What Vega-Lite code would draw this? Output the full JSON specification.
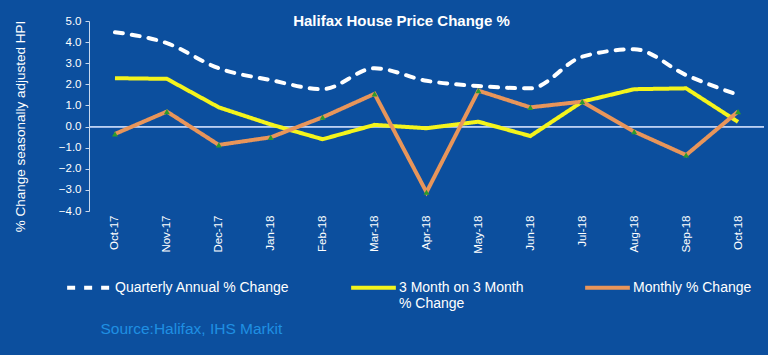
{
  "$schema": "https://vega.github.io/schema/vega-lite/v6.json",
  "width": 675,
  "height": 190,
  "autosize": {"type": "none"},
  "padding": {"left": 89, "top": 21, "right": 4, "bottom": 144},
  "background": "#0c4f9e",
  "title": {
    "text": "Halifax House Price Change %",
    "color": "white",
    "font": "Liberation Sans",
    "fontSize": 15,
    "fontWeight": "bold",
    "anchor": "middle",
    "baseline": "alphabetic",
    "offset": -5,
    "dx": -25,
    "dy": 21
  },
  "config": {
    "view": {"stroke": null},
    "font": "Liberation Sans"
  },
  "data": {
    "values": [
      {"month": "Oct-17", "series": "Quarterly Annual % Change", "value": 4.47},
      {"month": "Nov-17", "series": "Quarterly Annual % Change", "value": 3.95},
      {"month": "Dec-17", "series": "Quarterly Annual % Change", "value": 2.76},
      {"month": "Jan-18", "series": "Quarterly Annual % Change", "value": 2.2},
      {"month": "Feb-18", "series": "Quarterly Annual % Change", "value": 1.77},
      {"month": "Mar-18", "series": "Quarterly Annual % Change", "value": 2.76},
      {"month": "Apr-18", "series": "Quarterly Annual % Change", "value": 2.17},
      {"month": "May-18", "series": "Quarterly Annual % Change", "value": 1.92},
      {"month": "Jun-18", "series": "Quarterly Annual % Change", "value": 1.81},
      {"month": "Jul-18", "series": "Quarterly Annual % Change", "value": 3.31},
      {"month": "Aug-18", "series": "Quarterly Annual % Change", "value": 3.66},
      {"month": "Sep-18", "series": "Quarterly Annual % Change", "value": 2.44},
      {"month": "Oct-18", "series": "Quarterly Annual % Change", "value": 1.5},
      {"month": "Oct-17", "series": "3 Month on 3 Month % Change", "value": 2.29},
      {"month": "Nov-17", "series": "3 Month on 3 Month % Change", "value": 2.26},
      {"month": "Dec-17", "series": "3 Month on 3 Month % Change", "value": 0.91},
      {"month": "Jan-18", "series": "3 Month on 3 Month % Change", "value": 0.1},
      {"month": "Feb-18", "series": "3 Month on 3 Month % Change", "value": -0.6},
      {"month": "Mar-18", "series": "3 Month on 3 Month % Change", "value": 0.08},
      {"month": "Apr-18", "series": "3 Month on 3 Month % Change", "value": -0.08},
      {"month": "May-18", "series": "3 Month on 3 Month % Change", "value": 0.23},
      {"month": "Jun-18", "series": "3 Month on 3 Month % Change", "value": -0.45},
      {"month": "Jul-18", "series": "3 Month on 3 Month % Change", "value": 1.18},
      {"month": "Aug-18", "series": "3 Month on 3 Month % Change", "value": 1.77},
      {"month": "Sep-18", "series": "3 Month on 3 Month % Change", "value": 1.81},
      {"month": "Oct-18", "series": "3 Month on 3 Month % Change", "value": 0.22},
      {"month": "Oct-17", "series": "Monthly % Change", "value": -0.35},
      {"month": "Nov-17", "series": "Monthly % Change", "value": 0.71},
      {"month": "Dec-17", "series": "Monthly % Change", "value": -0.87},
      {"month": "Jan-18", "series": "Monthly % Change", "value": -0.51},
      {"month": "Feb-18", "series": "Monthly % Change", "value": 0.44},
      {"month": "Mar-18", "series": "Monthly % Change", "value": 1.55},
      {"month": "Apr-18", "series": "Monthly % Change", "value": -3.11},
      {"month": "May-18", "series": "Monthly % Change", "value": 1.7},
      {"month": "Jun-18", "series": "Monthly % Change", "value": 0.91},
      {"month": "Jul-18", "series": "Monthly % Change", "value": 1.18},
      {"month": "Aug-18", "series": "Monthly % Change", "value": -0.24},
      {"month": "Sep-18", "series": "Monthly % Change", "value": -1.35},
      {"month": "Oct-18", "series": "Monthly % Change", "value": 0.71}
    ]
  },
  "encoding": {
    "x": {
      "field": "month",
      "type": "ordinal",
      "sort": null,
      "scale": {"paddingInner": 0, "paddingOuter": 0.5},
      "axis": {
        "title": "Source:Halifax, IHS Markit",
        "titleColor": "#1f8fe3",
        "titleFont": "Liberation Sans",
        "titleFontSize": 15.5,
        "titleFontWeight": "normal",
        "titleAnchor": "start",
        "titleAlign": "left",
        "titleBaseline": "middle",
        "titleX": 11,
        "titleY": 117,
        "labelAngle": -90,
        "labelAlign": "right",
        "labelBaseline": "middle",
        "labelColor": "white",
        "labelFontSize": 11.5,
        "labelPadding": 4,
        "domain": false,
        "ticks": false,
        "grid": false
      }
    },
    "y": {
      "field": "value",
      "type": "quantitative",
      "scale": {"domain": [-4, 5], "nice": false, "zero": false},
      "axis": {
        "title": "% Change seasonally adjusted HPI",
        "titleColor": "white",
        "titleFontSize": 13.5,
        "titleFontWeight": "normal",
        "titleX": -62,
        "titleY": 105,
        "values": [-4, -3, -2, -1, 0, 1, 2, 3, 4, 5],
        "format": ".1f",
        "labelColor": "white",
        "labelFontSize": 11.5,
        "labelPadding": 4,
        "domainColor": "#c8d8ee",
        "tickColor": "#c8d8ee",
        "tickSize": 4,
        "grid": false
      }
    }
  },
  "layer": [
    {
      "mark": {"type": "rule", "color": "#bcd2f0", "strokeWidth": 1},
      "encoding": {"y": {"datum": 0}, "x": null}
    },
    {
      "mark": {"type": "line", "strokeWidth": 4, "interpolate": "monotone", "strokeCap": "round"},
      "transform": [{"filter": "datum.series == 'Quarterly Annual % Change'"}],
      "encoding": {
        "color": {"field": "series", "type": "nominal"},
        "strokeDash": {"field": "series", "type": "nominal"}
      }
    },
    {
      "mark": {"type": "line", "strokeWidth": 4},
      "transform": [{"filter": "datum.series == '3 Month on 3 Month % Change'"}],
      "encoding": {
        "color": {"field": "series", "type": "nominal"},
        "strokeDash": {"field": "series", "type": "nominal"}
      }
    },
    {
      "mark": {"type": "line", "strokeWidth": 4},
      "transform": [{"filter": "datum.series == 'Monthly % Change'"}],
      "encoding": {
        "color": {
          "field": "series",
          "type": "nominal",
          "scale": {
            "domain": ["Quarterly Annual % Change", "3 Month on 3 Month % Change", "Monthly % Change"],
            "range": ["#ffffff", "#f4f41c", "#e8955a"]
          },
          "legend": {
            "orient": "none",
            "legendX": -24,
            "legendY": 242,
            "direction": "horizontal",
            "columns": 3,
            "columnPadding": 53,
            "title": null,
            "symbolType": "stroke",
            "symbolSize": 2000,
            "symbolStrokeWidth": 4,
            "labelColor": "white",
            "labelFontSize": 14,
            "labelOffset": 1,
            "labelLimit": 300,
            "labelBaseline": "middle",
            "labelExpr": "datum.label == '3 Month on 3 Month % Change' ? ['3 Month on 3 Month', '% Change'] : [datum.label, ' ']"
          }
        },
        "strokeDash": {
          "field": "series",
          "type": "nominal",
          "scale": {
            "domain": ["Quarterly Annual % Change", "3 Month on 3 Month % Change", "Monthly % Change"],
            "range": [[8, 9], [1, 0], [1, 0]]
          }
        }
      }
    },
    {
      "mark": {"type": "point", "shape": "triangle-up", "filled": true, "size": 35, "color": "#2c9b2c", "opacity": 1},
      "transform": [{"filter": "datum.series == 'Monthly % Change'"}]
    }
  ]
}
